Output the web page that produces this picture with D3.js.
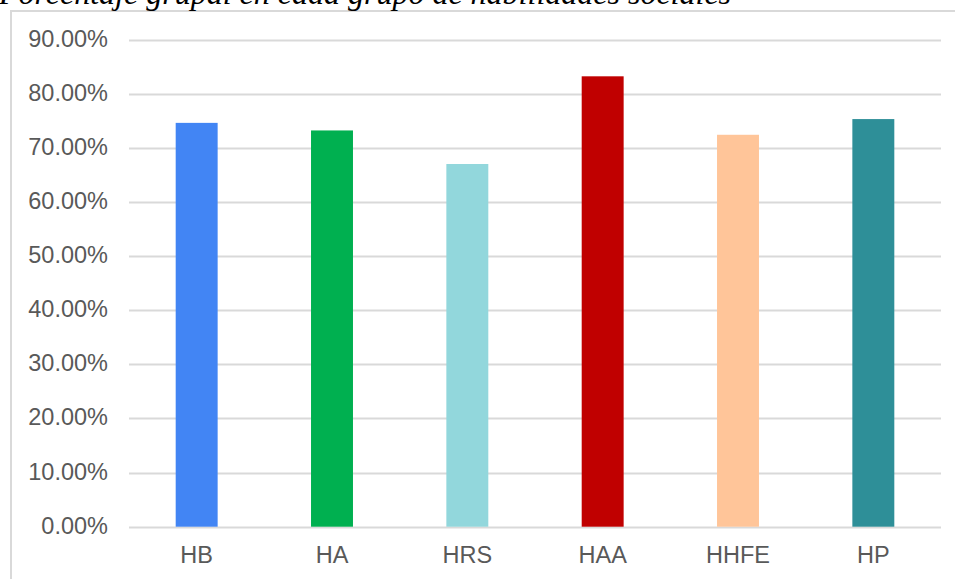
<!DOCTYPE html>
<html><head><meta charset="utf-8">
<script src="https://cdn.jsdelivr.net/npm/d3@7"></script>
<style>body{margin:0;background:#fff}svg{display:block}</style>
</head><body>
<script>
const categories = ["HB","HA","HRS","HAA","HHFE","HP"];
const values = [0.746, 0.732, 0.670, 0.832, 0.724, 0.753];
const colors = ["#4285F4","#00B050","#92D7DC","#C00000","#FFC599","#2E8F98"];
const yTicks = [0,0.1,0.2,0.3,0.4,0.5,0.6,0.7,0.8,0.9];
const title = "Porcentaje grupal en cada grupo de habilidades sociales";

const W=955,H=579;
const svg=d3.select("body").append("svg").attr("width",W).attr("height",H);
// frame
svg.append("line").attr("x1",10).attr("x2",W).attr("y1",11).attr("y2",11).attr("stroke","#d9d9d9").attr("stroke-width",2);
svg.append("line").attr("x1",11).attr("x2",11).attr("y1",10).attr("y2",H).attr("stroke","#d9d9d9").attr("stroke-width",2);
svg.append("text").attr("x",-1).attr("y",4).text(title)
  .attr("font-family","'Liberation Serif','Times New Roman',serif").attr("font-style","italic")
  .attr("font-size",32).attr("fill","#000");

const x=d3.scaleBand().domain(categories).range([129,941]).paddingInner(0.69).paddingOuter(0.345);
const y=d3.scaleLinear().domain([0,0.9]).range([526.7,39.5]);

const g=svg.append("g");
g.selectAll("line.grid").data(yTicks).join("line").attr("class","grid")
  .attr("x1",129).attr("x2",941).attr("y1",d=>Math.round(y(d))+0.5).attr("y2",d=>Math.round(y(d))+0.5)
  .attr("stroke","#d9d9d9").attr("stroke-width",2);

const yAxis=d3.axisLeft(y).tickValues(yTicks).tickFormat(d3.format(".2%")).tickSize(0).tickPadding(0);
const ya=svg.append("g").attr("transform","translate(108,-1)").call(yAxis);
ya.select(".domain").remove();
ya.selectAll("text").attr("font-family","'Liberation Sans',Arial,sans-serif").attr("font-size",23.5).attr("fill","#595959");

g.selectAll("rect").data(categories).join("rect")
  .attr("x",d=>x(d)).attr("width",x.bandwidth())
  .attr("y",(d,i)=>y(values[i])).attr("height",(d,i)=>y(0)-y(values[i]))
  .attr("fill",(d,i)=>colors[i]);

const xAxis=d3.axisBottom(x).tickSize(0).tickPadding(0);
const xa=svg.append("g").attr("transform","translate(0,0)").call(xAxis);
xa.select(".domain").remove();
xa.selectAll("text").attr("dy",null).attr("y",563).attr("font-family","'Liberation Sans',Arial,sans-serif").attr("font-size",23.5).attr("fill","#595959");
</script>
</body></html>
